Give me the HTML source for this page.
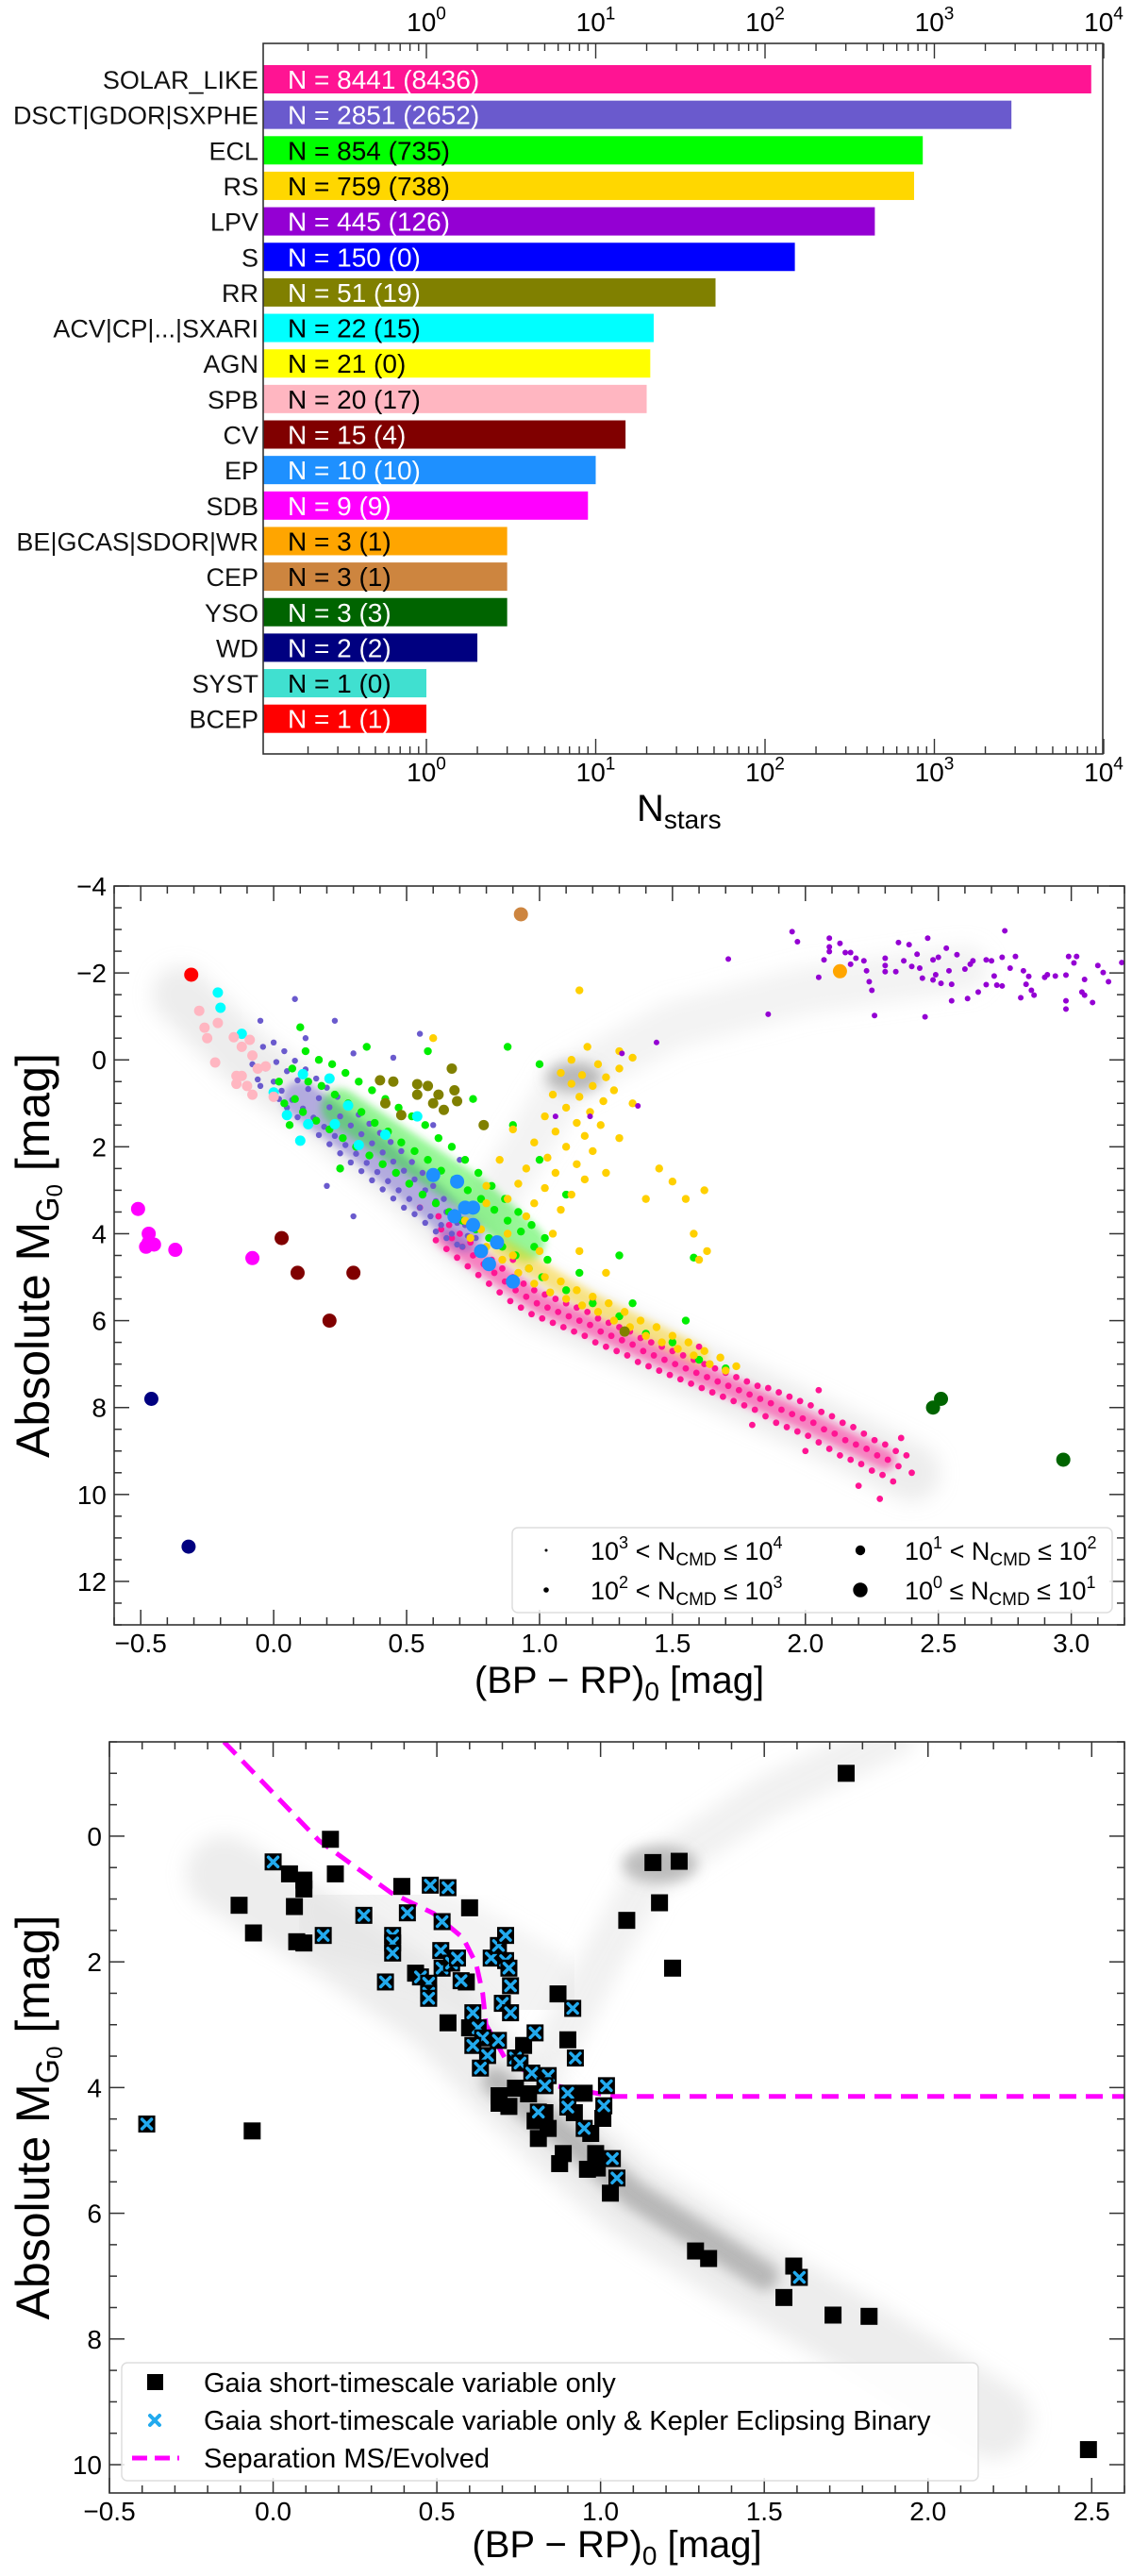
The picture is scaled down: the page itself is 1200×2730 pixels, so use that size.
<!DOCTYPE html>
<html>
<head>
<meta charset="utf-8">
<style>
  html,body{margin:0;padding:0;background:#fff;}
  svg{display:block;font-family:"Liberation Sans",sans-serif;}
</style>
</head>
<body>
<svg id="fig" width="1200" height="2730" viewBox="0 0 1200 2730" xmlns="http://www.w3.org/2000/svg">
  <defs>
    <filter id="blur1" x="-20%" y="-20%" width="140%" height="140%"><feGaussianBlur stdDeviation="10"/></filter>
    <filter id="blur2" x="-50%" y="-50%" width="200%" height="200%"><feGaussianBlur stdDeviation="7"/></filter>
    <filter id="blur3" x="-20%" y="-20%" width="140%" height="140%"><feGaussianBlur stdDeviation="4"/></filter>
    <clipPath id="clipMid"><rect x="121" y="939" width="1071" height="783"/></clipPath>
    <clipPath id="clipBot"><rect x="116" y="1846" width="1076" height="796"/></clipPath>
  </defs>
  <g id="topChart"></g>
  <g id="midChart"></g>
  <g id="botChart"></g>
</svg>
<script>
// ===================== DATA: top bar chart =====================
const classLabels = ["SOLAR_LIKE","DSCT|GDOR|SXPHE","ECL","RS","LPV","S","RR","ACV|CP|...|SXARI","AGN","SPB","CV","EP","SDB","BE|GCAS|SDOR|WR","CEP","YSO","WD","SYST","BCEP"];
const classCounts = [8441,2851,854,759,445,150,51,22,21,20,15,10,9,3,3,3,2,1,1];
const classCmdCounts = [8436,2652,735,738,126,0,19,15,0,17,4,10,9,1,1,3,2,0,1];
const barColors = ["#ff1493","#6a5acd","#00ff00","#ffd700","#9400d3","#0000ff","#808000","#00ffff","#ffff00","#ffb6c1","#800000","#1e90ff","#ff00ff","#ffa500","#cd853f","#006400","#000080","#40e0d0","#ff0000"];
const barTextColors = ["#fff","#fff","#000","#000","#fff","#fff","#fff","#000","#000","#000","#fff","#fff","#fff","#000","#000","#fff","#fff","#000","#fff"];
const logTickExps = [0,1,2,3,4];

// ===================== DATA: middle CMD =====================
const solarLike = [[0.62,3.6],[0.63,3.9],[0.61,4.15],[0.66,3.8],[0.67,4.1],[0.65,4.35],[0.70,4.0],[0.71,4.3],[0.69,4.55],[0.74,4.2],[0.75,4.5],[0.73,4.75],[0.78,4.4],[0.79,4.7],[0.77,4.95],[0.82,4.6],[0.83,4.9],[0.81,5.15],[0.86,4.8],[0.87,5.1],[0.85,5.35],[0.90,5.0],[0.91,5.3],[0.89,5.55],[0.94,5.15],[0.95,5.45],[0.93,5.7],[0.98,5.3],[0.99,5.6],[0.97,5.85],[1.02,5.4],[1.03,5.7],[1.01,5.95],[1.06,5.5],[1.07,5.8],[1.05,6.05],[1.10,5.6],[1.11,5.9],[1.09,6.15],[1.14,5.7],[1.15,6.0],[1.13,6.25],[1.18,5.8],[1.19,6.1],[1.17,6.35],[1.22,5.95],[1.23,6.25],[1.21,6.5],[1.26,6.05],[1.27,6.35],[1.25,6.6],[1.30,6.15],[1.31,6.45],[1.29,6.7],[1.34,6.25],[1.35,6.55],[1.33,6.8],[1.38,6.4],[1.39,6.7],[1.37,6.95],[1.42,6.5],[1.43,6.8],[1.41,7.05],[1.46,6.6],[1.47,6.9],[1.45,7.15],[1.50,6.7],[1.51,7.0],[1.49,7.25],[1.54,6.8],[1.55,7.1],[1.53,7.35],[1.58,6.9],[1.59,7.2],[1.57,7.45],[1.62,7.0],[1.63,7.3],[1.61,7.55],[1.66,7.1],[1.67,7.4],[1.65,7.65],[1.70,7.2],[1.71,7.5],[1.69,7.75],[1.74,7.3],[1.75,7.6],[1.73,7.85],[1.78,7.4],[1.79,7.7],[1.77,7.95],[1.82,7.5],[1.83,7.8],[1.81,8.05],[1.86,7.55],[1.87,7.9],[1.85,8.2],[1.90,7.65],[1.91,8.05],[1.89,8.35],[1.94,7.75],[1.95,8.15],[1.93,8.45],[1.98,7.85],[1.99,8.25],[1.97,8.55],[2.02,7.95],[2.03,8.35],[2.01,8.65],[2.06,8.1],[2.07,8.5],[2.05,8.8],[2.10,8.2],[2.11,8.6],[2.09,8.95],[2.14,8.35],[2.15,8.75],[2.13,9.1],[2.18,8.45],[2.19,8.85],[2.17,9.2],[2.22,8.6],[2.23,8.95],[2.21,9.3],[2.26,8.75],[2.27,9.1],[2.25,9.45],[2.30,8.85],[2.31,9.2],[2.29,9.55],[2.34,9.0],[2.35,9.35],[2.33,9.7],[2.38,9.1],[2.40,9.5],[2.28,10.1],[2.2,9.8],[2.0,9.0],[1.8,8.4],[2.36,8.7],[0.55,3.4],[0.9,4.6],[1.2,5.5],[1.6,6.6],[2.05,7.6]];
const dsct = [[-0.08,0.1],[-0.06,0.45],[-0.04,-0.3],[-0.03,0.2],[-0.05,0.6],[0.00,-0.4],[0.01,0.05],[0.0,0.5],[0.02,0.9],[0.04,-0.2],[0.05,0.26],[0.03,0.71],[0.05,1.1],[0.08,0.02],[0.09,0.47],[0.07,0.92],[0.09,1.32],[0.12,0.22],[0.13,0.67],[0.11,1.12],[0.13,1.52],[0.16,0.43],[0.17,0.88],[0.15,1.33],[0.17,1.73],[0.20,0.64],[0.21,1.09],[0.19,1.54],[0.21,1.94],[0.24,0.85],[0.25,1.3],[0.23,1.75],[0.25,2.15],[0.28,1.06],[0.29,1.51],[0.27,1.96],[0.29,2.36],[0.32,1.26],[0.33,1.71],[0.31,2.16],[0.33,2.56],[0.36,1.47],[0.37,1.92],[0.35,2.37],[0.37,2.77],[0.40,1.68],[0.41,2.13],[0.39,2.58],[0.41,2.98],[0.44,1.89],[0.45,2.34],[0.43,2.79],[0.45,3.19],[0.48,2.1],[0.49,2.55],[0.47,3.0],[0.49,3.4],[0.52,2.35],[0.53,2.75],[0.51,3.2],[0.53,3.55],[0.56,2.6],[0.57,3.0],[0.55,3.4],[0.57,3.75],[0.60,2.9],[0.61,3.25],[0.59,3.6],[0.61,3.95],[0.64,3.2],[0.65,3.5],[0.63,3.8],[0.65,4.1],[0.68,3.5],[0.69,3.75],[0.67,4.0],[0.69,4.25],[0.72,3.8],[0.73,4.05],[0.71,4.3],[0.76,4.1],[0.77,4.35],[0.08,-1.4],[0.23,-0.9],[0.3,-0.15],[0.45,-0.05],[0.55,-0.6],[-0.05,-0.9],[0.12,-0.5],[0.2,2.9],[0.3,3.6],[0.6,1.5],[0.7,2.3]];
const ecl = [[0.02,0.5],[0.04,1.0],[0.07,0.2],[0.08,0.9],[0.06,1.5],[0.12,-0.2],[0.13,0.5],[0.11,1.2],[0.17,0.0],[0.18,0.6],[0.16,1.4],[0.22,0.1],[0.23,0.8],[0.21,1.6],[0.27,0.3],[0.28,1.0],[0.26,1.8],[0.32,0.5],[0.33,1.2],[0.31,2.0],[0.37,0.7],[0.38,1.45],[0.36,2.2],[0.42,0.9],[0.43,1.65],[0.41,2.4],[0.47,1.1],[0.48,1.9],[0.46,2.6],[0.52,1.3],[0.53,2.1],[0.51,2.85],[0.57,1.5],[0.58,2.3],[0.56,3.1],[0.62,1.8],[0.63,2.55],[0.61,3.3],[0.67,2.0],[0.68,2.75],[0.66,3.5],[0.72,2.3],[0.73,3.0],[0.71,3.7],[0.77,2.6],[0.78,3.2],[0.76,3.9],[0.82,2.9],[0.83,3.45],[0.81,4.1],[0.87,3.2],[0.88,3.7],[0.86,4.3],[0.92,3.5],[0.93,3.95],[0.91,4.5],[0.97,3.8],[0.98,4.3],[0.96,4.8],[1.02,4.1],[1.03,4.6],[1.01,5.0],[1.1,5.3],[1.2,5.6],[1.3,5.9],[1.4,6.3],[1.5,6.5],[1.6,6.9],[1.7,7.1],[1.15,4.9],[1.35,5.6],[0.1,-0.75],[0.35,-0.3],[0.58,-0.2],[0.88,-0.3],[1.0,0.1],[0.75,0.9],[0.9,1.5],[1.0,2.3],[1.1,3.1],[1.3,4.5],[1.58,4.55],[1.55,6.0],[0.25,2.5]];
const rs = [[1.18,-0.3],[1.12,0.0],[1.22,0.1],[1.08,0.3],[1.16,0.35],[1.25,0.4],[1.12,0.55],[1.20,0.6],[1.28,0.7],[1.05,0.8],[1.15,0.85],[1.24,0.95],[1.10,1.1],[1.19,1.2],[1.02,1.3],[1.14,1.45],[1.23,1.5],[1.06,1.65],[1.17,1.75],[0.98,1.9],[1.10,2.0],[1.20,2.1],[1.03,2.25],[1.14,2.4],[0.95,2.5],[1.06,2.6],[1.17,2.75],[0.92,2.85],[1.02,2.95],[1.12,3.1],[0.88,3.2],[0.98,3.3],[1.08,3.45],[1.3,0.2],[1.35,1.0],[1.3,1.8],[1.25,2.6],[0.9,1.6],[0.85,2.3],[0.8,2.9],[0.72,3.7],[0.74,4.1],[0.78,3.9],[0.8,4.3],[0.84,4.2],[0.86,4.6],[0.90,4.5],[0.92,4.9],[0.96,4.8],[0.98,5.15],[1.02,5.0],[1.04,5.35],[1.08,5.1],[1.10,5.5],[1.14,5.3],[1.16,5.65],[1.20,5.45],[1.22,5.8],[1.26,5.6],[1.28,6.0],[1.32,5.8],[1.34,6.15],[1.38,6.0],[1.40,6.35],[1.44,6.15],[1.46,6.5],[1.50,6.35],[1.52,6.65],[1.56,6.5],[1.58,6.8],[1.62,6.7],[1.64,7.0],[1.68,6.85],[1.70,7.15],[1.74,7.05],[0.8,3.3],[0.95,3.6],[1.05,4.0],[1.15,4.4],[1.25,4.9],[0.88,4.0],[1.0,4.4],[1.45,2.5],[1.5,2.8],[1.55,3.2],[1.62,3.0],[1.58,4.0],[1.63,4.4],[1.6,4.6],[1.4,3.2],[0.6,-0.5],[1.15,-1.6],[1.3,-0.2],[1.35,-0.05]];
const lpv = [[1.71,-2.32],[1.86,-1.05],[1.95,-2.95],[1.97,-2.72],[2.05,-1.9],[2.07,-2.3],[2.09,-2.8],[2.09,-2.6],[2.09,-2.49],[2.13,-2.68],[2.15,-2.47],[2.17,-2.47],[2.17,-2.2],[2.19,-2.34],[2.22,-2.28],[2.23,-2.05],[2.24,-1.8],[2.25,-1.6],[2.26,-1.02],[2.30,-2.34],[2.30,-2.17],[2.30,-2.03],[2.34,-2.03],[2.35,-2.7],[2.37,-2.28],[2.39,-2.65],[2.40,-2.15],[2.42,-2.43],[2.43,-2.11],[2.44,-1.88],[2.45,-0.99],[2.46,-2.8],[2.48,-2.3],[2.48,-1.84],[2.49,-1.96],[2.50,-2.36],[2.51,-1.76],[2.53,-2.57],[2.54,-2.05],[2.55,-1.36],[2.55,-1.74],[2.57,-2.42],[2.60,-2.09],[2.61,-1.41],[2.62,-2.2],[2.63,-2.28],[2.65,-1.56],[2.68,-2.3],[2.68,-1.73],[2.70,-2.28],[2.71,-1.93],[2.72,-1.72],[2.74,-1.7],[2.74,-2.36],[2.75,-2.97],[2.77,-2.11],[2.79,-2.38],[2.81,-1.43],[2.82,-2.05],[2.83,-1.74],[2.84,-1.92],[2.85,-1.6],[2.86,-1.49],[2.90,-1.9],[2.91,-1.96],[2.94,-1.93],[2.98,-1.95],[2.98,-1.36],[2.98,-1.17],[2.99,-2.38],[3.01,-2.23],[3.02,-2.38],[3.04,-1.56],[3.05,-1.85],[3.05,-1.49],[3.08,-1.32],[3.10,-2.17],[3.12,-2.01],[3.14,-1.8],[3.19,-2.24],[1.31,-0.15],[1.37,1.06],[1.19,1.3],[1.44,-0.4],[1.06,1.3]];
const rrLyr = [[0.40,0.47],[0.45,0.5],[0.54,0.56],[0.58,0.6],[0.62,0.8],[0.68,0.7],[0.69,0.95],[0.60,1.0],[0.64,1.15],[0.42,1.0],[0.48,1.27],[0.67,0.2],[0.79,1.5],[1.32,6.25],[0.54,0.8]];
const acv = [[-0.21,-1.55],[-0.20,-1.2],[-0.12,-0.6],[0.11,0.33],[0.21,0.43],[0.0,0.75],[0.05,1.27],[0.10,1.86],[0.13,1.48],[0.23,1.48],[0.28,1.05],[0.32,1.96],[0.42,1.72],[0.54,1.3]];
const spb = [[-0.28,-1.13],[-0.26,-0.74],[-0.25,-0.5],[-0.21,-0.85],[-0.22,0.06],[-0.15,-0.52],[-0.09,-0.46],[-0.12,-0.3],[-0.08,-0.1],[-0.06,0.2],[-0.03,0.15],[-0.14,0.37],[-0.12,0.37],[-0.14,0.55],[-0.10,0.6],[-0.08,0.8],[0.0,0.85]];
const ep = [[0.60,2.65],[0.69,2.8],[0.68,3.6],[0.72,3.4],[0.75,3.4],[0.75,3.8],[0.84,4.2],[0.78,4.4],[0.81,4.7],[0.90,5.1]];
const cv = [[0.03,4.1],[0.09,4.9],[0.30,4.9],[0.21,6.0]];
const sdb = [[-0.51,3.43],[-0.47,4.0],[-0.47,4.2],[-0.48,4.3],[-0.45,4.25],[-0.37,4.37],[-0.08,4.56]];
const wd = [[-0.32,11.2],[-0.46,7.8]];
const yso = [[2.48,8.0],[2.51,7.8],[2.97,9.2]];
const bcep = [[-0.31,-1.96]];
const cep = [[0.93,-3.35]];
const beStars = [[2.13,-2.04]];
const midXTicks = [-0.5,0.0,0.5,1.0,1.5,2.0,2.5,3.0];
const midYTicks = [-4,-2,0,2,4,6,8,10,12];

// ===================== DATA: bottom CMD =====================
const gaiaOnly = [[0.175,0.05],[0.19,0.6],[0.05,0.6],[0.094,0.70],[0.094,0.84],[-0.104,1.1],[0.065,1.12],[-0.06,1.54],[0.072,1.68],[0.094,1.70],[0.393,0.80],[0.60,1.14],[0.435,2.18],[0.59,2.32],[0.534,2.97],[0.60,3.05],[0.87,2.51],[0.90,3.24],[0.765,3.33],[0.69,4.13],[0.69,4.25],[0.74,4.01],[0.80,4.53],[0.84,4.65],[0.81,4.81],[0.886,5.05],[0.875,5.21],[0.95,4.09],[0.97,4.73],[0.985,5.05],[1.007,4.49],[1.03,5.68],[0.99,5.28],[1.08,1.34],[1.16,0.42],[1.24,0.40],[1.18,1.06],[1.22,2.10],[1.29,6.60],[1.33,6.72],[1.59,6.84],[1.56,7.34],[1.71,7.62],[1.82,7.64],[2.49,9.76],[1.75,-1.0],[-0.064,4.69],[0.72,4.3],[0.78,4.1],[0.83,4.4],[0.92,4.4],[0.96,5.3]];
const gaiaKeplerEB = [[0.0,0.41],[0.153,1.58],[0.277,1.26],[0.41,1.22],[0.48,0.78],[0.534,0.82],[0.516,1.36],[0.365,1.58],[0.365,1.70],[0.365,1.86],[0.343,2.32],[0.45,2.24],[0.475,2.34],[0.475,2.5],[0.475,2.58],[0.512,1.82],[0.516,2.10],[0.545,2.02],[0.563,1.94],[0.574,2.30],[0.666,1.94],[0.688,1.74],[0.71,1.58],[0.71,1.98],[0.72,2.10],[0.725,2.38],[0.70,2.66],[0.725,2.81],[0.61,2.81],[0.626,3.05],[0.64,3.21],[0.61,3.33],[0.655,3.49],[0.633,3.69],[0.688,3.25],[0.74,3.53],[0.754,3.61],[0.80,3.13],[0.79,3.77],[0.84,3.81],[0.83,3.97],[0.81,4.39],[0.90,4.09],[0.90,4.31],[0.915,2.74],[0.923,3.53],[0.95,4.65],[1.018,3.97],[1.01,4.29],[1.036,5.13],[1.05,5.44],[-0.386,4.58],[1.607,7.02]];
const msSeparationX = [-0.15,0.14,0.36,0.49,0.58,0.62,0.64,0.65,0.71,0.84,1.04,2.6];
const msSeparationY = [-1.5,0.07,0.9,1.23,1.62,2.03,2.5,3.0,3.55,3.95,4.14,4.14];
const botXTicks = [-0.5,0.0,0.5,1.0,1.5,2.0,2.5];
const botYTicks = [0,2,4,6,8,10];

// ===================== helpers =====================
const NS = "http://www.w3.org/2000/svg";
function mk(tag, parent, attrs) {
  const e = document.createElementNS(NS, tag);
  for (const k in attrs) e.setAttribute(k, attrs[k]);
  parent.appendChild(e);
  return e;
}
function fmt(v) { return (v < 0 ? "\u2212" : "") + Math.abs(v).toFixed(1); }
function supText(parent, x, y, base, sup, size, anchor) {
  const t = mk("text", parent, {x: x, y: y, "font-size": size, "text-anchor": anchor || "middle", fill: "#000"});
  const a = mk("tspan", t, {}); a.textContent = base;
  const b = mk("tspan", t, {dy: -size * 0.45, "font-size": size * 0.68}); b.textContent = sup;
  return t;
}

// ===================== TOP CHART =====================
(function () {
  const g = document.getElementById("topChart");
  const L = 279, R = 1169, T = 46, B = 799;
  const xLog = v => 452 + 179.5 * Math.log10(v);
  const y0 = 84, step = 37.65, bh = 30;
  classLabels.forEach((lab, i) => {
    const cy = y0 + i * step;
    const r = mk("rect", g, {x: L, y: cy - bh / 2, width: xLog(classCounts[i]) - L, height: bh, fill: barColors[i]});
    
    
    const tl = mk("text", g, {x: 274, y: cy + 10, "font-size": 27, "text-anchor": "end", fill: "#111"});
    tl.textContent = lab;
    
    
    const tv = mk("text", g, {x: 305, y: cy + 10, "font-size": 28, fill: barTextColors[i]});
    tv.textContent = "N = " + classCounts[i] + " (" + classCmdCounts[i] + ")";
    
    
  });
  const fr = mk("rect", g, {x: L, y: T, width: R - L, height: B - T, fill: "none", stroke: "#333", "stroke-width": 1.6});
  
  
  for (let e = -1; e <= 4; e++) {
    for (let m = 1; m <= 9; m++) {
      const v = m * Math.pow(10, e);
      const x = xLog(v);
      if (x < L || x > R + 1) continue;
      const len = m === 1 ? 16 : 8;
      mk("line", g, {x1: x, y1: T, x2: x, y2: T + len, stroke: "#333", "stroke-width": 1.4});
      mk("line", g, {x1: x, y1: B, x2: x, y2: B - len, stroke: "#333", "stroke-width": 1.4});
    }
  }
  logTickExps.forEach(e => {
    const x = xLog(Math.pow(10, e));
    const t1 = supText(g, x, 33, "10", String(e), 28);
    
    
    const t2 = supText(g, x, 828, "10", String(e), 28);
    
    
  });
  const xt = mk("text", g, {x: 675, y: 870, "font-size": 40, fill: "#000"});
  const a = mk("tspan", xt, {}); a.textContent = "N";
  const b = mk("tspan", xt, {dy: 8, "font-size": 28}); b.textContent = "stars";
  
  
})();

// ===================== generic linear axes =====================
function linAxes(g, c) {
  const X = x => c.L + (x - c.xmin) * (c.R - c.L) / (c.xmax - c.xmin);
  const Y = y => c.T + (y - c.ymin) * (c.B - c.T) / (c.ymax - c.ymin);
  const fr = mk("rect", g, {x: c.L, y: c.T, width: c.R - c.L, height: c.B - c.T, fill: "none", stroke: "#333", "stroke-width": 1.6});
  
  
  for (let k = Math.ceil(c.xmin * 10); k <= Math.floor(c.xmax * 10); k++) {
    const x = X(k / 10);
    const len = (k % 5 === 0) ? 16 : 8;
    mk("line", g, {x1: x, y1: c.B, x2: x, y2: c.B - len, stroke: "#333", "stroke-width": 1.5});
    mk("line", g, {x1: x, y1: c.T, x2: x, y2: c.T + len, stroke: "#333", "stroke-width": 1.5});
  }
  for (let k = Math.ceil(c.ymin * 2); k <= Math.floor(c.ymax * 2); k++) {
    const y = Y(k / 2);
    const len = (k % 4 === 0) ? 16 : 8;
    mk("line", g, {x1: c.L, y1: y, x2: c.L + len, y2: y, stroke: "#333", "stroke-width": 1.5});
    mk("line", g, {x1: c.R, y1: y, x2: c.R - len, y2: y, stroke: "#333", "stroke-width": 1.5});
  }
  c.xTicks.forEach(v => {
    const t = mk("text", g, {x: X(v), y: c.B + 29, "font-size": 28, "text-anchor": "middle", fill: "#000"});
    t.textContent = fmt(v);
    
    
  });
  c.yTicks.forEach(v => {
    const t = mk("text", g, {x: c.L - 8, y: Y(v) + 10, "font-size": 28, "text-anchor": "end", fill: "#000"});
    t.textContent = (v < 0 ? "\u2212" : "") + Math.abs(v);
    
    
  });
  const xt = mk("text", g, {x: (c.L + c.R) / 2, y: c.B + c.xTitleDy, "font-size": 40, "text-anchor": "middle", fill: "#000"});
  const p1 = mk("tspan", xt, {}); p1.textContent = "(BP \u2212 RP)";
  const p2 = mk("tspan", xt, {dy: 8, "font-size": 28}); p2.textContent = "0";
  const p3 = mk("tspan", xt, {dy: -8}); p3.textContent = " [mag]";
  
  
  const cy = (c.T + c.B) / 2;
  const yt = mk("text", g, {x: 0, y: 0, "font-size": 50, "text-anchor": "middle", fill: "#000", transform: "translate(52," + cy + ") rotate(-90)"});
  const q1 = mk("tspan", yt, {}); q1.textContent = "Absolute M";
  const q2 = mk("tspan", yt, {dy: 10, "font-size": 34}); q2.textContent = "G";
  const q3 = mk("tspan", yt, {dy: 4, "font-size": 24}); q3.textContent = "0";
  const q4 = mk("tspan", yt, {dy: -14}); q4.textContent = " [mag]";
  
  
  return {X, Y};
}
function bgPath(g, pts, X, Y, w, col, op, filt) {
  const d = pts.map((p, i) => (i ? "L" : "M") + X(p[0]).toFixed(1) + "," + Y(p[1]).toFixed(1)).join(" ");
  const e = mk("path", g, {d: d, fill: "none", stroke: col, "stroke-width": w, "stroke-opacity": op, "stroke-linecap": "round", "stroke-linejoin": "round", filter: filt});
  
  
}
function bgBlob(g, x, y, rx, ry, col, op) {
  const e = mk("ellipse", g, {cx: x, cy: y, rx: rx, ry: ry, fill: col, "fill-opacity": op, filter: "url(#blur2)"});
  
  
}

// ===================== MIDDLE CHART =====================
(function () {
  const g = document.getElementById("midChart");
  const c = {L: 121, R: 1192, T: 939, B: 1722, xmin: -0.6, xmax: 3.2, ymin: -4, ymax: 13, xTicks: midXTicks, yTicks: midYTicks, xTitleDy: 72};
  const plot = mk("g", g, {"clip-path": "url(#clipMid)"});
  const X = x => c.L + (x - c.xmin) * (c.R - c.L) / (c.xmax - c.xmin);
  const Y = y => c.T + (y - c.ymin) * (c.B - c.T) / (c.ymax - c.ymin);
  bgPath(plot, [[-0.35,-1.5],[-0.1,0.0],[0.2,1.3],[0.5,2.8],[0.7,4.0],[1.0,5.5],[1.5,6.9],[2.0,8.3],[2.4,9.5]], X, Y, 60, "#ccc", 0.35, "url(#blur1)");
  bgPath(plot, [[0.8,3.5],[0.95,2.0],[1.1,0.5],[1.5,-0.8],[2.0,-1.6],[2.6,-2.1]], X, Y, 50, "#ddd", 0.35, "url(#blur1)");
  bgBlob(plot, X(1.13), Y(0.4), 30, 16, "#888", 0.55);
  // class density halos (decorative, under markers)
  bgPath(plot, [[0.65,4.1],[1.0,5.6],[1.5,6.95],[2.0,8.3],[2.3,9.2]], X, Y, 22, "#ff1493", 0.5, "url(#blur3)");
  bgPath(plot, [[0.1,0.9],[0.35,2.0],[0.6,3.3],[0.72,4.0]], X, Y, 38, "#6a5acd", 0.45, "url(#blur3)");
  bgPath(plot, [[0.25,1.1],[0.5,2.1],[0.75,3.1],[0.95,4.2]], X, Y, 40, "#00ee00", 0.4, "url(#blur3)");
  bgPath(plot, [[0.85,4.3],[1.2,5.6],[1.6,6.8]], X, Y, 20, "#ffd000", 0.45, "url(#blur3)");
  const groups = [
    [solarLike, "#ff1493", 3.4, "solar-like"], [dsct, "#6a5acd", 3.2, "dsct"], [ecl, "#00ee00", 4.2, "ecl"],
    [rs, "#ffd000", 4.2, "rs"], [lpv, "#9400d3", 3.0, "lpv"], [rrLyr, "#808000", 5.5, "rr"],
    [acv, "#00ffff", 5.5, "acv"], [spb, "#ffb6c1", 5.5, "spb"], [ep, "#1e90ff", 7.5, "ep"],
    [cv, "#800000", 7.5, "cv"], [sdb, "#ff00ff", 7.5, "sdb"], [wd, "#000080", 7.5, "wd"],
    [yso, "#006400", 7.5, "yso"], [bcep, "#ff0000", 7.5, "bcep"], [cep, "#cd853f", 7.5, "cep"], [beStars, "#ffa500", 7.5, "be"]
  ];
  groups.forEach(gr => {
    gr[0].forEach(p => {
      const ci = mk("circle", plot, {cx: X(p[0]), cy: Y(p[1]), r: gr[2], fill: gr[1]});
      
      
    });
  });
  linAxes(g, c);
  const lg = mk("g", g, {});
  
  
  mk("rect", lg, {x: 543, y: 1619, width: 636, height: 90, rx: 6, fill: "#fff", "fill-opacity": 0.85, stroke: "#ddd", "stroke-width": 1.5});
  const ents = [[579, 1643, 1.5, "3", "<", "4"], [579, 1685, 2.8, "2", "<", "3"], [912, 1643, 5.2, "1", "<", "2"], [912, 1685, 7.7, "0", "\u2264", "1"]];
  ents.forEach(e => {
    const d = mk("circle", lg, {cx: e[0], cy: e[1], r: e[2], fill: "#000"});
    
    
    const t = mk("text", lg, {x: e[0] + 47, y: e[1] + 10, "font-size": 27, fill: "#000"});
    const a = mk("tspan", t, {}); a.textContent = "10";
    const b = mk("tspan", t, {dy: -12, "font-size": 18}); b.textContent = e[3];
    const cc = mk("tspan", t, {dy: 12}); cc.textContent = " " + e[4] + " N";
    const d2 = mk("tspan", t, {dy: 6, "font-size": 19}); d2.textContent = "CMD";
    const f = mk("tspan", t, {dy: -6}); f.textContent = " \u2264 10";
    const h = mk("tspan", t, {dy: -12, "font-size": 18}); h.textContent = e[5];
    
    
  });
})();

// ===================== BOTTOM CHART =====================
(function () {
  const g = document.getElementById("botChart");
  const c = {L: 116, R: 1192, T: 1846, B: 2642, xmin: -0.5, xmax: 2.6, ymin: -1.5, ymax: 10.45, xTicks: botXTicks, yTicks: botYTicks, xTitleDy: 68};
  const plot = mk("g", g, {"clip-path": "url(#clipBot)"});
  const X = x => c.L + (x - c.xmin) * (c.R - c.L) / (c.xmax - c.xmin);
  const Y = y => c.T + (y - c.ymin) * (c.B - c.T) / (c.ymax - c.ymin);
  bgPath(plot, [[-0.15,0.6],[0.2,1.7],[0.5,2.8],[0.7,3.9],[0.9,4.9],[1.1,5.8],[1.4,6.8],[1.8,8.0],[2.2,9.3]], X, Y, 80, "#ccc", 0.35, "url(#blur1)");
  bgPath(plot, [[0.2,1.2],[0.5,1.6],[0.8,2.5]], X, Y, 100, "#ddd", 0.35, "url(#blur1)");
  bgPath(plot, [[0.68,3.9],[0.9,4.8],[1.1,5.7],[1.5,7.0]], X, Y, 30, "#777", 0.45, "url(#blur2)");
  bgPath(plot, [[0.85,3.5],[1.0,2.0],[1.15,0.6],[1.5,-0.6],[1.9,-1.6]], X, Y, 45, "#ddd", 0.4, "url(#blur1)");
  bgBlob(plot, X(1.18), Y(0.45), 40, 20, "#888", 0.5);
  const d = msSeparationX.map((v, i) => (i ? "L" : "M") + X(v).toFixed(1) + "," + Y(msSeparationY[i]).toFixed(1)).join(" ");
  const sep = mk("path", plot, {d: d, fill: "none", stroke: "#ff00ff", "stroke-width": 5, "stroke-dasharray": "18 10"});
  
  
  gaiaOnly.forEach(p => {
    const s = mk("rect", plot, {x: X(p[0]) - 9, y: Y(p[1]) - 9, width: 18, height: 18, fill: "#000"});
    
    
  });
  gaiaKeplerEB.forEach(p => {
    const x = X(p[0]), y = Y(p[1]);
    const s = mk("rect", plot, {x: x - 9, y: y - 9, width: 18, height: 18, fill: "#000"});
    
    
    const xx = mk("path", plot, {d: "M" + (x - 5) + "," + (y - 5) + "L" + (x + 5) + "," + (y + 5) + "M" + (x + 5) + "," + (y - 5) + "L" + (x - 5) + "," + (y + 5), stroke: "#22aaee", "stroke-width": 3.5, "stroke-linecap": "round"});
    
    
  });
  linAxes(g, c);
  const lg = mk("g", g, {});
  
  
  mk("rect", lg, {x: 129, y: 2504, width: 908, height: 125, rx: 6, fill: "#fff", "fill-opacity": 0.85, stroke: "#ddd", "stroke-width": 1.5});
  const m1 = mk("rect", lg, {x: 156, y: 2516, width: 17, height: 17, fill: "#000"});
  
  
  const m2 = mk("path", lg, {d: "M159,2560L169,2570M169,2560L159,2570", stroke: "#22aaee", "stroke-width": 4, "stroke-linecap": "round"});
  
  
  const m3 = mk("path", lg, {d: "M140,2605L190,2605", stroke: "#ff00ff", "stroke-width": 5, "stroke-dasharray": "16 8"});
  
  
  const labs = ["Gaia short-timescale variable only", "Gaia short-timescale variable only & Kepler Eclipsing Binary", "Separation MS/Evolved"];
  labs.forEach((s, i) => {
    const t = mk("text", lg, {x: 216, y: 2535 + i * 40, "font-size": 29, fill: "#000"});
    t.textContent = s;
    
    
  });
})();
</script>
</body>
</html>
